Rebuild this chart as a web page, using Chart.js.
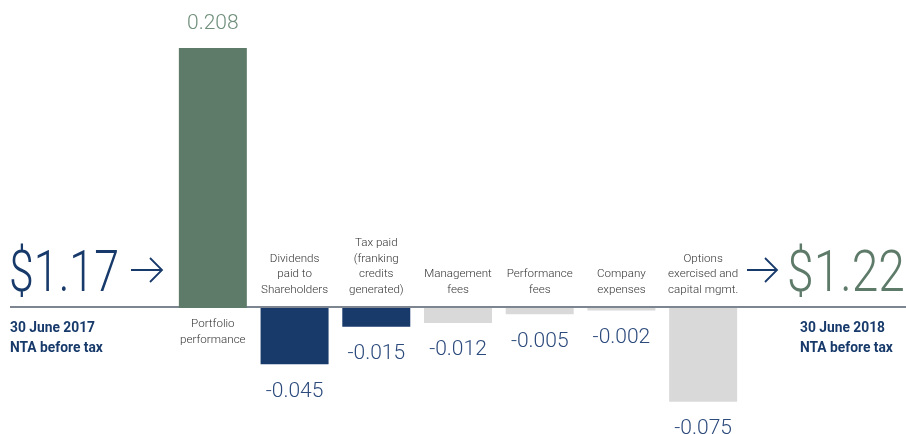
<!DOCTYPE html>
<html>
<head>
<meta charset="utf-8">
<script src="https://cdn.jsdelivr.net/npm/chart.js@4.4.0/dist/chart.umd.min.js"></script>
<style>
  html, body { margin: 0; padding: 0; background: #fff; }
  #wrap { width: 906px; height: 434px; position: relative; }
</style>
</head>
<body>
<div id="wrap"><canvas id="ntaChart"></canvas></div>
<script>
// data
const categories = ['Portfolio performance', 'Dividends paid to Shareholders', 'Tax paid (franking credits generated)',
    'Management fees', 'Performance fees', 'Company expenses', 'Options exercised and capital mgmt.'];
const labelLines = [
    ['Portfolio', 'performance'],
    ['Dividends', 'paid to', 'Shareholders'],
    ['Tax paid', '(franking', 'credits', 'generated)'],
    ['Management', 'fees'],
    ['Performance', 'fees'],
    ['Company', 'expenses'],
    ['Options', 'exercised and', 'capital mgmt.']
];
const changes = [0.208, -0.045, -0.015, -0.012, -0.005, -0.002, -0.075];
const startValue = 1.17;
const endValue = 1.22;
const startLabel = ['30 June 2017', 'NTA before tax'];
const endLabel = ['30 June 2018', 'NTA before tax'];

const GREEN = '#5e7b6a';
const NAVY = '#173a6b';
const GREY = '#d9d9d9';
const barColors = [GREEN, NAVY, NAVY, GREY, GREY, GREY, GREY];

// big number squeezed to a given width (the original font is narrower)
function bigText(ctx, txt, x, y, w, col) {
    ctx.save();
    ctx.font = '300 58px Roboto';
    ctx.fillStyle = col;
    const sx = w / ctx.measureText(txt).width;
    ctx.translate(x, y);
    ctx.scale(sx, 1);
    ctx.fillText(txt, 0, 0);
    ctx.restore();
}

// text, arrows and the base line
const annotate = {
    id: 'annotate',
    beforeDatasetsDraw(chart) {
        const ctx = chart.ctx;
        const y0 = chart.scales.y.getPixelForValue(0);
        ctx.save();
        ctx.strokeStyle = '#7d8590';
        ctx.lineWidth = 2;
        ctx.beginPath();
        ctx.moveTo(10, y0 - 1);
        ctx.lineTo(906, y0 - 1);
        ctx.stroke();
        ctx.restore();
    },
    afterDatasetsDraw(chart) {
        const ctx = chart.ctx;
        const meta = chart.getDatasetMeta(0);
        const y0 = chart.scales.y.getPixelForValue(0);
        ctx.save();
        ctx.textAlign = 'center';
        ctx.textBaseline = 'middle';

        meta.data.forEach((bar, i) => {
            const v = changes[i];
            const lines = labelLines[i];
            // category text
            ctx.font = '300 11.6px Roboto';
            ctx.fillStyle = '#333';
            if (v < 0) {
                lines.forEach((ln, k) => {
                    ctx.fillText(ln, bar.x, y0 - 18 - (lines.length - 1 - k) * 15.7);
                });
            } else {
                lines.forEach((ln, k) => {
                    ctx.fillText(ln, bar.x, y0 + 16 + k * 16.5);
                });
            }
            // value text
            ctx.font = '300 21px Roboto';
            if (v < 0) {
                ctx.fillStyle = '#2c4a7c';
                ctx.fillText(v.toFixed(3), bar.x, bar.y + 27);
            } else {
                ctx.fillStyle = '#6f8f7c';
                ctx.fillText(v.toFixed(3), bar.x, bar.y - 24);
            }
        });

        // start and end NTA
        const arrow = (x1, x2, y, col) => {
            ctx.strokeStyle = col;
            ctx.lineWidth = 1.8;
            ctx.beginPath();
            ctx.moveTo(x1, y);
            ctx.lineTo(x2, y);
            ctx.moveTo(x2 - 12, y - 12);
            ctx.lineTo(x2, y);
            ctx.lineTo(x2 - 12, y + 12);
            ctx.stroke();
        };
        ctx.textAlign = 'left';
        ctx.textBaseline = 'alphabetic';
        bigText(ctx, '$' + startValue.toFixed(2), 9, 291, 110, NAVY);
        bigText(ctx, '$' + endValue.toFixed(2), 787, 291, 118, GREEN);
        arrow(131, 162, 270, NAVY);
        arrow(747, 777, 270, NAVY);

        ctx.font = 'bold 13.8px Roboto';
        ctx.fillStyle = NAVY;
        ctx.textBaseline = 'middle';
        startLabel.forEach((ln, k) => ctx.fillText(ln, 10, 329 + k * 19.5));
        endLabel.forEach((ln, k) => ctx.fillText(ln, 800, 329 + k * 19.5));
        ctx.restore();
    }
};

const ctx = document.getElementById('ntaChart').getContext('2d');
const ntaChart = new Chart(ctx, {
    type: 'bar',
    data: {
        labels: categories,
        datasets: [{
            data: changes,
            backgroundColor: barColors,
            borderWidth: 0,
            barPercentage: 0.832,
            categoryPercentage: 1.0
        }]
    },
    options: {
        responsive: true,
        maintainAspectRatio: false,
        animation: false,
        layout: { padding: { left: 172, right: 162, top: 0, bottom: 0 } },
        plugins: { legend: { display: false }, tooltip: { enabled: false } },
        scales: {
            x: { display: false, offset: true },
            y: { display: false, min: -0.1008, max: 0.2464 }
        }
    },
    plugins: [annotate]
});
</script>
</body>
</html>
